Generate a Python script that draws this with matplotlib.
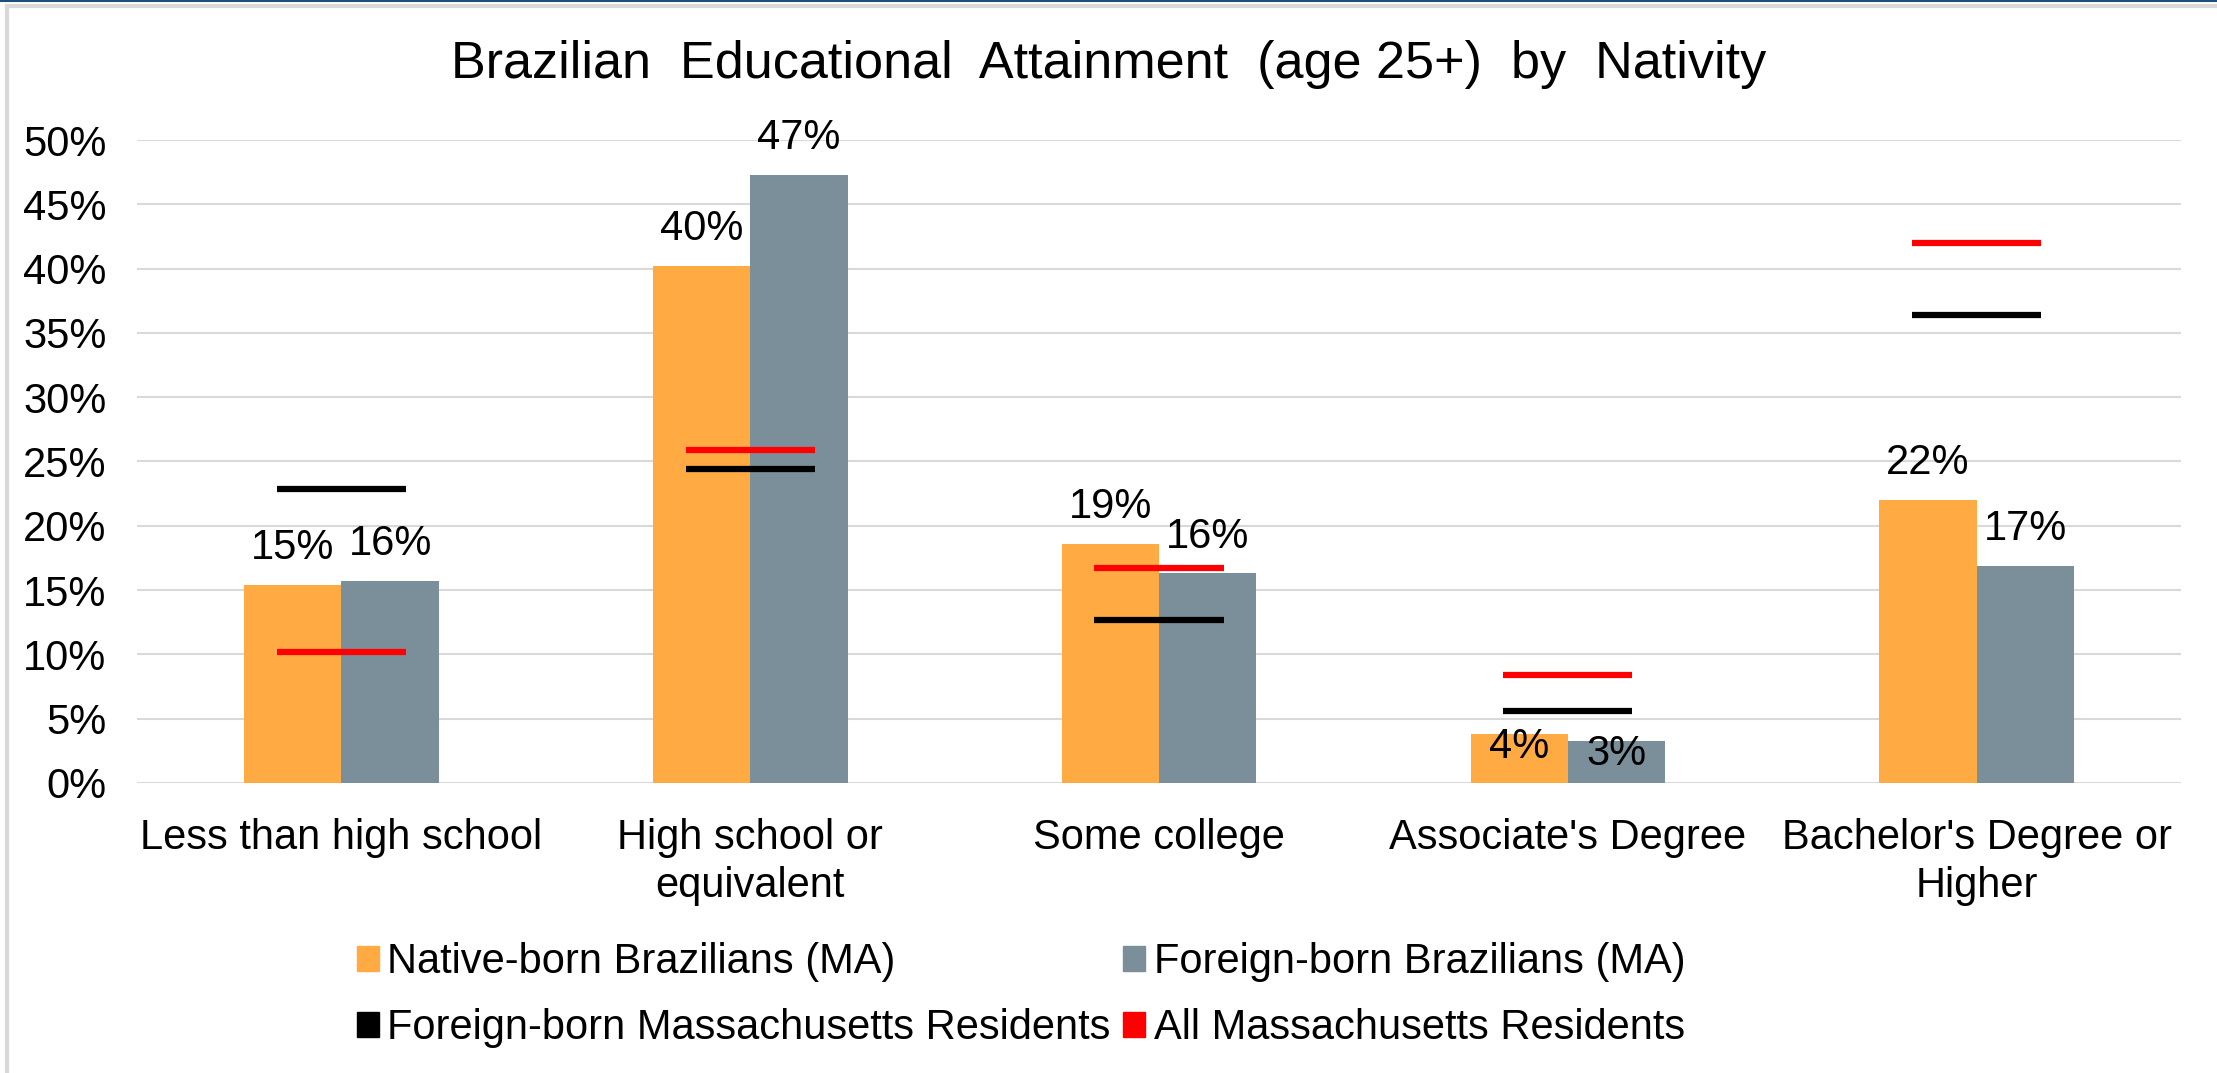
import numpy as np
import matplotlib
matplotlib.use('Agg')
import matplotlib.pyplot as plt
from matplotlib.patches import Patch, Rectangle
from matplotlib.lines import Line2D

categories = ['Less than high school', 'High school or\nequivalent', 'Some college',
              "Associate's Degree", "Bachelor's Degree or\nHigher"]
native_br = [0.154, 0.402, 0.186, 0.038, 0.220]
foreign_br = [0.157, 0.473, 0.163, 0.033, 0.169]
foreign_ma = [0.229, 0.244, 0.127, 0.056, 0.364]
all_ma = [0.102, 0.259, 0.167, 0.084, 0.420]
yticks = [0, 0.05, 0.10, 0.15, 0.20, 0.25, 0.30, 0.35, 0.40, 0.45, 0.50]

orange = '#FFAA42'
grey = '#7A8F99'
fs = 30

plt.rcParams['font.family'] = ['Liberation Sans', 'DejaVu Sans']

fig = plt.figure(figsize=(22.17, 10.73), dpi=100)
ax = fig.add_axes([0.0618, 0.2703, 0.922, 0.5992])

x = np.arange(len(categories))
w = 0.238
b1 = ax.bar(x - w/2, native_br, w, color=orange, zorder=2)
b2 = ax.bar(x + w/2, foreign_br, w, color=grey, zorder=2)

# marker lines for MA comparisons
half = 0.158
ax.hlines(foreign_ma, x - half, x + half, color='black', lw=4.5, zorder=3)
ax.hlines(all_ma, x - half, x + half, color='#FF0000', lw=4.5, zorder=3)

# data labels, associate's degree ones sit inside the bar
for bars in (b1, b2):
    for i, r in enumerate(bars):
        h = r.get_height()
        if i == 3:
            ax.annotate(f'{h:.0%}', (r.get_x() + r.get_width()/2, h), xytext=(0, 5),
                        textcoords='offset points', ha='center', va='top', fontsize=fs, zorder=4)
        else:
            ax.annotate(f'{h:.0%}', (r.get_x() + r.get_width()/2, h), xytext=(0, 12),
                        textcoords='offset points', ha='center', va='bottom', fontsize=fs, zorder=4)

ax.set_xlim(-0.5, len(categories) - 0.5)
ax.set_ylim(0, 0.5)
ax.set_yticks(yticks)
ax.set_yticklabels([f'{t:.0%}' for t in yticks], fontsize=fs)
ax.set_xticks(x)
ax.set_xticklabels(categories, fontsize=fs, linespacing=1.28)
ax.tick_params(axis='both', length=0)
ax.tick_params(axis='y', pad=22)
ax.tick_params(axis='x', pad=25)
ax.yaxis.grid(True, color='#D9D9D9', lw=1.5, zorder=0)
ax.set_axisbelow(True)
for s in ax.spines.values():
    s.set_visible(False)

fig.text(0.5, 0.94, 'Brazilian  Educational  Attainment  (age 25+)  by  Nativity',
         ha='center', va='center', fontsize=37.5)

handles = [Patch(color=orange), Patch(color='black'), Patch(color=grey), Patch(color='#FF0000')]
labels = ['Native-born Brazilians (MA)', 'Foreign-born Massachusetts Residents',
          'Foreign-born Brazilians (MA)', 'All Massachusetts Residents']
fig.legend(handles, labels, ncol=2, loc='upper left', bbox_to_anchor=(357/2217, 1 - 942/1073),
           frameon=False, fontsize=fs, handlelength=0.53, handleheight=0.55,
           handletextpad=0.2, columnspacing=0.3, labelspacing=0.62, borderpad=0, borderaxespad=0)

# chart border bits
fig.patches.append(Rectangle((7/2217, -0.1), 1.2, 1 - 6/1073 + 0.1, transform=fig.transFigure,
                             fill=False, edgecolor='#D9D9D9', lw=3))
fig.add_artist(Line2D([0, 1], [1 - 0.5/1073, 1 - 0.5/1073], transform=fig.transFigure,
                      color='#1F4E79', lw=1.5))

fig.savefig('out.png', dpi=100)
